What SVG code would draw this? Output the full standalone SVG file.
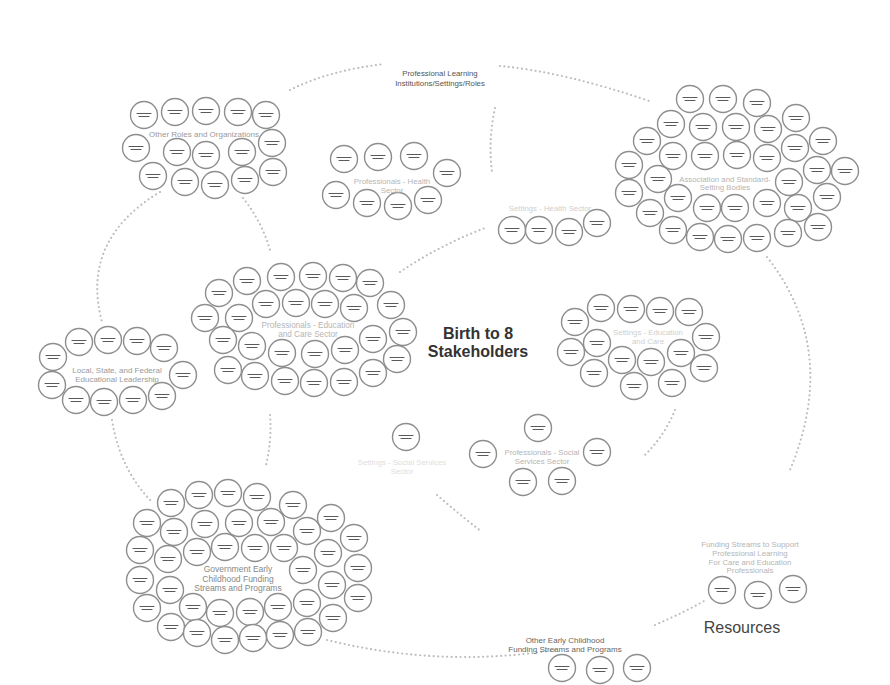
<svg xmlns="http://www.w3.org/2000/svg" width="890" height="685" viewBox="0 0 890 685">
<style>
.n{fill:#fff;stroke:#8e8e8e;stroke-width:1.4}
.m{stroke:#5a5a5a;stroke-width:1.1;stroke-linecap:round}
.d{fill:none;stroke:#bcbcbc;stroke-width:2.2;stroke-linecap:round;stroke-dasharray:0 4.5}
.t{font-family:"Liberation Sans",Arial,sans-serif;font-size:7.8px;text-anchor:middle}
.l1{fill:#9a9a9a}.l2{fill:#b5b5b5}.l3{fill:#cfcfcf}.l4{fill:#dedede}
</style>
<defs>
<symbol id="nd" overflow="visible">
<circle class="n" cx="0" cy="0" r="13.5"/>
<line class="m" x1="-7" y1="-1.5" x2="7" y2="-1.5"/>
<line class="m" x1="-5" y1="1.5" x2="5" y2="1.5"/>
</symbol>
</defs>
<rect width="890" height="685" fill="#fff"/>
<g id="connectors">
<path class="d" d="M290 90 Q330 70 385 64"/>
<path class="d" d="M500 66 Q565 72 652 102"/>
<path class="d" d="M160 192 Q80 240 102 322"/>
<path class="d" d="M112 420 Q120 470 153 503"/>
<path class="d" d="M327 640 Q440 668 555 650"/>
<path class="d" d="M655 625 Q685 612 706 600"/>
<path class="d" d="M767 257 Q840 350 790 470"/>
<path class="d" d="M243 198 Q262 222 270 250"/>
<path class="d" d="M400 272 Q440 245 485 228"/>
<path class="d" d="M495 108 Q488 140 492 172"/>
<path class="d" d="M675 410 Q665 435 645 455"/>
<path class="d" d="M437 495 Q460 515 482 532"/>
<path class="d" d="M270 415 Q272 440 266 465"/>
</g>
<g id="professional-learning">
<text class="t" x="440" y="76" fill="#555">Professional Learning</text>
<text class="t" x="440" y="86" fill="#555">Institutions/Settings/Roles</text>
</g>
<g id="other-roles">
<use href="#nd" x="144" y="115"/><use href="#nd" x="175" y="112"/><use href="#nd" x="206" y="111"/><use href="#nd" x="238" y="112"/><use href="#nd" x="266" y="115"/>
<use href="#nd" x="136" y="148"/><use href="#nd" x="177" y="152"/><use href="#nd" x="206" y="155"/><use href="#nd" x="242" y="152"/><use href="#nd" x="272" y="143"/>
<use href="#nd" x="153" y="176"/><use href="#nd" x="185" y="182"/><use href="#nd" x="215" y="185"/><use href="#nd" x="245" y="180"/><use href="#nd" x="273" y="172"/>
<text class="t l1" x="204" y="137" style="font-size:8px">Other Roles and Organizations</text>
</g>
<g id="prof-health">
<use href="#nd" x="344" y="159"/><use href="#nd" x="378" y="157"/><use href="#nd" x="414" y="156"/><use href="#nd" x="447" y="173"/>
<use href="#nd" x="336" y="195"/><use href="#nd" x="367" y="203"/><use href="#nd" x="398" y="206"/><use href="#nd" x="428" y="200"/>
<text class="t l2" x="392" y="184">Professionals - Health</text>
<text class="t l2" x="392" y="192.8">Sector</text>
</g>
<g id="association">
<use href="#nd" x="690" y="99"/><use href="#nd" x="723" y="99"/><use href="#nd" x="757" y="103"/>
<use href="#nd" x="671" y="124"/><use href="#nd" x="703" y="127"/><use href="#nd" x="736" y="127"/><use href="#nd" x="768" y="129"/><use href="#nd" x="796" y="118"/>
<use href="#nd" x="647" y="141"/><use href="#nd" x="823" y="141"/>
<use href="#nd" x="673" y="156"/><use href="#nd" x="705" y="156"/><use href="#nd" x="737" y="155"/><use href="#nd" x="767" y="158"/><use href="#nd" x="795" y="148"/>
<use href="#nd" x="629" y="165"/><use href="#nd" x="658" y="179"/><use href="#nd" x="817" y="170"/><use href="#nd" x="845" y="171"/><use href="#nd" x="789" y="182"/>
<use href="#nd" x="629" y="193"/><use href="#nd" x="678" y="198"/><use href="#nd" x="707" y="208"/><use href="#nd" x="735" y="208"/><use href="#nd" x="767" y="203"/><use href="#nd" x="798" y="208"/><use href="#nd" x="827" y="197"/>
<use href="#nd" x="650" y="213"/><use href="#nd" x="673" y="230"/><use href="#nd" x="700" y="237"/><use href="#nd" x="728" y="239"/><use href="#nd" x="757" y="238"/><use href="#nd" x="788" y="233"/><use href="#nd" x="818" y="227"/>
<text class="t l2" x="725" y="181.5">Association and Standard-</text>
<text class="t l2" x="725" y="190.3">Setting Bodies</text>
</g>
<g id="settings-health">
<use href="#nd" x="512" y="230"/><use href="#nd" x="539" y="230"/><use href="#nd" x="569" y="232"/><use href="#nd" x="597" y="223"/>
<text class="t l3" x="550" y="210.5">Settings - Health Sector</text>
</g>
<g id="prof-education">
<use href="#nd" x="247" y="281"/><use href="#nd" x="281" y="277"/><use href="#nd" x="313" y="276"/><use href="#nd" x="343" y="278"/><use href="#nd" x="370" y="283"/>
<use href="#nd" x="219" y="293"/><use href="#nd" x="266" y="304"/><use href="#nd" x="296" y="303"/><use href="#nd" x="325" y="304"/><use href="#nd" x="354" y="308"/><use href="#nd" x="391" y="305"/>
<use href="#nd" x="205" y="318"/><use href="#nd" x="239" y="318"/><use href="#nd" x="403" y="332"/>
<use href="#nd" x="223" y="340"/><use href="#nd" x="252" y="346"/><use href="#nd" x="282" y="353"/><use href="#nd" x="315" y="354"/><use href="#nd" x="345" y="350"/><use href="#nd" x="373" y="339"/><use href="#nd" x="397" y="359"/>
<use href="#nd" x="228" y="370"/><use href="#nd" x="255" y="376"/><use href="#nd" x="285" y="381"/><use href="#nd" x="314" y="383"/><use href="#nd" x="344" y="382"/><use href="#nd" x="373" y="373"/>
<text class="t l2" x="308" y="327.5" style="font-size:8.2px">Professionals - Education</text>
<text class="t l2" x="308" y="336.8" style="font-size:8.2px">and Care Sector</text>
</g>
<g id="center">
<text x="478" y="339" style="font-family:'Liberation Sans',Arial,sans-serif;font-size:16px;font-weight:bold;fill:#333;text-anchor:middle">Birth to 8</text>
<text x="478" y="356.5" style="font-family:'Liberation Sans',Arial,sans-serif;font-size:16px;font-weight:bold;fill:#333;text-anchor:middle">Stakeholders</text>
</g>
<g id="local-state">
<use href="#nd" x="79" y="342"/><use href="#nd" x="108" y="340"/><use href="#nd" x="137" y="341"/><use href="#nd" x="164" y="348"/>
<use href="#nd" x="53" y="357"/><use href="#nd" x="183" y="375"/>
<use href="#nd" x="52" y="385"/><use href="#nd" x="162" y="396"/>
<use href="#nd" x="76" y="400"/><use href="#nd" x="104" y="402"/><use href="#nd" x="133" y="400"/>
<text class="t l1" x="117" y="372.5" style="font-size:8px">Local, State, and Federal</text>
<text class="t l1" x="117" y="381.5" style="font-size:8px">Educational Leadership</text>
</g>
<g id="settings-education">
<use href="#nd" x="601" y="308"/><use href="#nd" x="631" y="309"/><use href="#nd" x="660" y="311"/><use href="#nd" x="689" y="312"/>
<use href="#nd" x="575" y="322"/><use href="#nd" x="706" y="337"/>
<use href="#nd" x="597" y="343"/><use href="#nd" x="571" y="352"/><use href="#nd" x="622" y="360"/><use href="#nd" x="651" y="362"/><use href="#nd" x="681" y="353"/><use href="#nd" x="704" y="368"/>
<use href="#nd" x="594" y="373"/><use href="#nd" x="634" y="386"/><use href="#nd" x="672" y="383"/>
<text class="t l3" x="648" y="335">Settings - Education</text>
<text class="t l3" x="648" y="343.8">and Care</text>
</g>
<g id="settings-social">
<use href="#nd" x="406" y="437"/>
<text class="t l4" x="402" y="465">Settings - Social Services</text>
<text class="t l4" x="402" y="473.8">Sector</text>
</g>
<g id="prof-social">
<use href="#nd" x="538" y="428"/><use href="#nd" x="483" y="454"/><use href="#nd" x="597" y="452"/><use href="#nd" x="523" y="482"/><use href="#nd" x="562" y="481"/>
<text class="t l2" x="542" y="455">Professionals - Social</text>
<text class="t l2" x="542" y="463.8">Services Sector</text>
</g>
<g id="government">
<use href="#nd" x="171" y="503"/><use href="#nd" x="199" y="495"/><use href="#nd" x="228" y="493"/><use href="#nd" x="257" y="497"/><use href="#nd" x="293" y="505"/>
<use href="#nd" x="147" y="523"/><use href="#nd" x="174" y="532"/><use href="#nd" x="205" y="524"/><use href="#nd" x="239" y="523"/><use href="#nd" x="271" y="522"/><use href="#nd" x="307" y="531"/><use href="#nd" x="331" y="518"/><use href="#nd" x="354" y="538"/>
<use href="#nd" x="140" y="550"/><use href="#nd" x="168" y="559"/><use href="#nd" x="197" y="552"/><use href="#nd" x="225" y="547"/><use href="#nd" x="255" y="548"/><use href="#nd" x="284" y="548"/><use href="#nd" x="328" y="553"/><use href="#nd" x="358" y="568"/>
<use href="#nd" x="303" y="570"/><use href="#nd" x="332" y="585"/>
<use href="#nd" x="140" y="580"/><use href="#nd" x="170" y="590"/><use href="#nd" x="358" y="598"/>
<use href="#nd" x="147" y="608"/><use href="#nd" x="193" y="607"/><use href="#nd" x="220" y="613"/><use href="#nd" x="250" y="612"/><use href="#nd" x="278" y="607"/><use href="#nd" x="307" y="603"/><use href="#nd" x="333" y="618"/>
<use href="#nd" x="171" y="627"/><use href="#nd" x="197" y="633"/><use href="#nd" x="225" y="640"/><use href="#nd" x="253" y="638"/><use href="#nd" x="280" y="635"/><use href="#nd" x="308" y="632"/>
<text class="t" x="238" y="572" style="font-size:8.5px;fill:#888">Government Early</text>
<text class="t" x="238" y="581.5" style="font-size:8.5px;fill:#888">Childhood Funding</text>
<text class="t" x="238" y="591" style="font-size:8.5px;fill:#888">Streams and Programs</text>
</g>
<g id="funding-streams">
<use href="#nd" x="722" y="590"/><use href="#nd" x="758" y="595"/><use href="#nd" x="793" y="589"/>
<text class="t l2" x="750" y="547">Funding Streams to Support</text>
<text class="t l2" x="750" y="555.8">Professional Learning</text>
<text class="t l2" x="750" y="564.6">For Care and Education</text>
<text class="t l2" x="750" y="573.4">Professionals</text>
</g>
<g id="other-early-childhood">
<use href="#nd" x="562" y="668"/><use href="#nd" x="600" y="670"/><use href="#nd" x="637" y="668"/>
<text class="t" x="565" y="643" style="font-size:8px;fill:#666">Other Early Childhood</text>
<text class="t" x="565" y="652" style="font-size:8px;fill:#666">Funding Streams and Programs</text>
</g>
<g id="resources">
<text x="742" y="633" style="font-family:'Liberation Sans',Arial,sans-serif;font-size:16px;fill:#444;text-anchor:middle">Resources</text>
</g>
</svg>
